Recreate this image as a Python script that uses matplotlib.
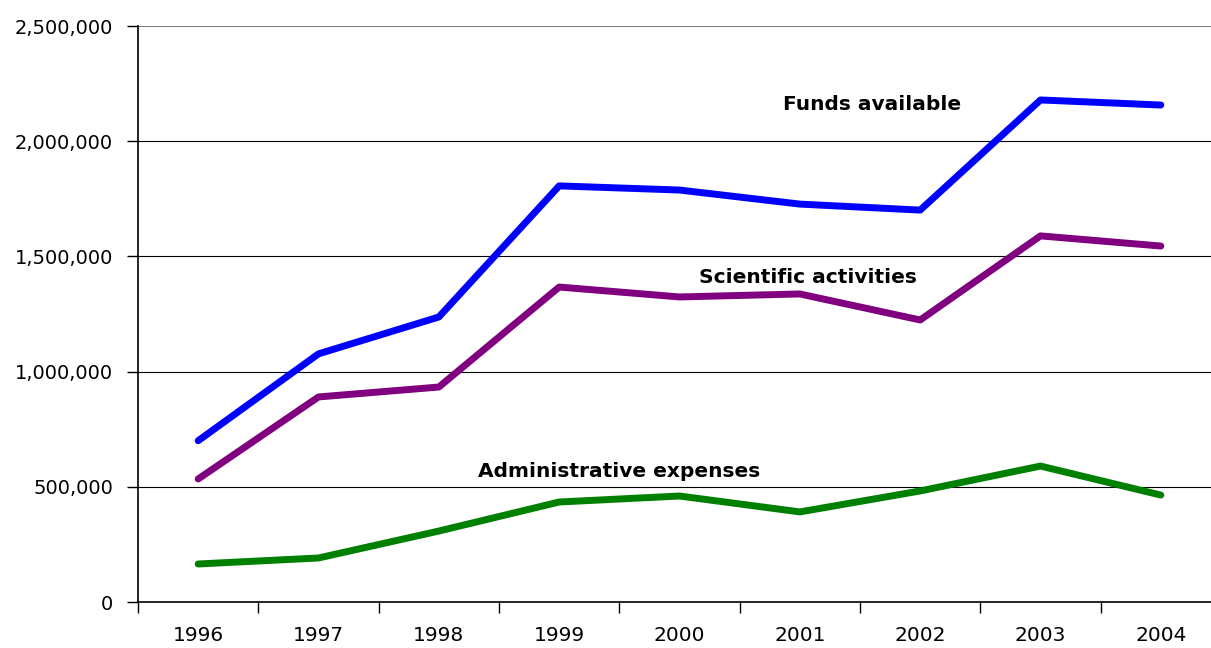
import matplotlib
matplotlib.use("Agg")
import matplotlib.pyplot as plt
from matplotlib.ticker import FuncFormatter

years = ["1996", "1997", "1998", "1999", "2000", "2001", "2002", "2003", "2004"]
funds_available = [700000, 1077000, 1237000, 1806000, 1788000, 1727000, 1701000, 2179000, 2157000]
scientific_activities = [534000, 890000, 933000, 1367000, 1324000, 1337000, 1224000, 1589000, 1545000]
administrative_expenses = [165000, 191000, 308000, 434000, 460000, 391000, 482000, 590000, 464000]

plt.rcParams['font.family'] = ['DejaVu Sans']

fig = plt.figure(figsize=(12.11, 6.48), dpi=100)
ax = fig.add_axes([138/1211, 46/648, (1221-138)/1211, 576/648])

x = list(range(len(years)))
kw = dict(linewidth=5, solid_capstyle='round', solid_joinstyle='round', zorder=3)
ax.plot(x, funds_available, color='#0000FF', **kw)
ax.plot(x, scientific_activities, color='#800080', **kw)
ax.plot(x, administrative_expenses, color='#008000', **kw)

ax.set_xlim(-0.5, 8.5)
ax.set_ylim(0, 2500000)
yt = [0, 500000, 1000000, 1500000, 2000000, 2500000]
ax.set_yticks(yt)
ax.yaxis.set_major_formatter(FuncFormatter(lambda v, p: f"{int(v):,}"))
for v in yt[1:-1]:
    ax.axhline(v, color='black', linewidth=0.8, zorder=1)
ax.axhline(2500000, color='#808080', linewidth=1.5, zorder=1)

ax.set_xticks([i + 0.5 for i in range(-1, 8)])
ax.set_xticklabels([])
ax.set_xticks(x, minor=True)
ax.set_xticklabels(years, minor=True)
ax.tick_params(axis='x', which='minor', length=0, pad=17, labelsize=14.5)
ax.tick_params(axis='x', which='major', length=8, width=1, direction='out')
ax.tick_params(axis='y', length=8, width=1, direction='out', pad=10, labelsize=14)

for s in ['top', 'right']:
    ax.spines[s].set_visible(False)
ax.spines['left'].set_linewidth(1.2)
ax.spines['bottom'].set_linewidth(1.2)

ax.text(5.6, 2160000, "Funds available", fontsize=14.5, fontweight='bold', ha='center', va='center')
ax.text(5.07, 1410000, "Scientific activities", fontsize=14.5, fontweight='bold', ha='center', va='center')
ax.text(3.5, 565000, "Administrative expenses", fontsize=14.5, fontweight='bold', ha='center', va='center')

fig.savefig("out.png", dpi=100)
